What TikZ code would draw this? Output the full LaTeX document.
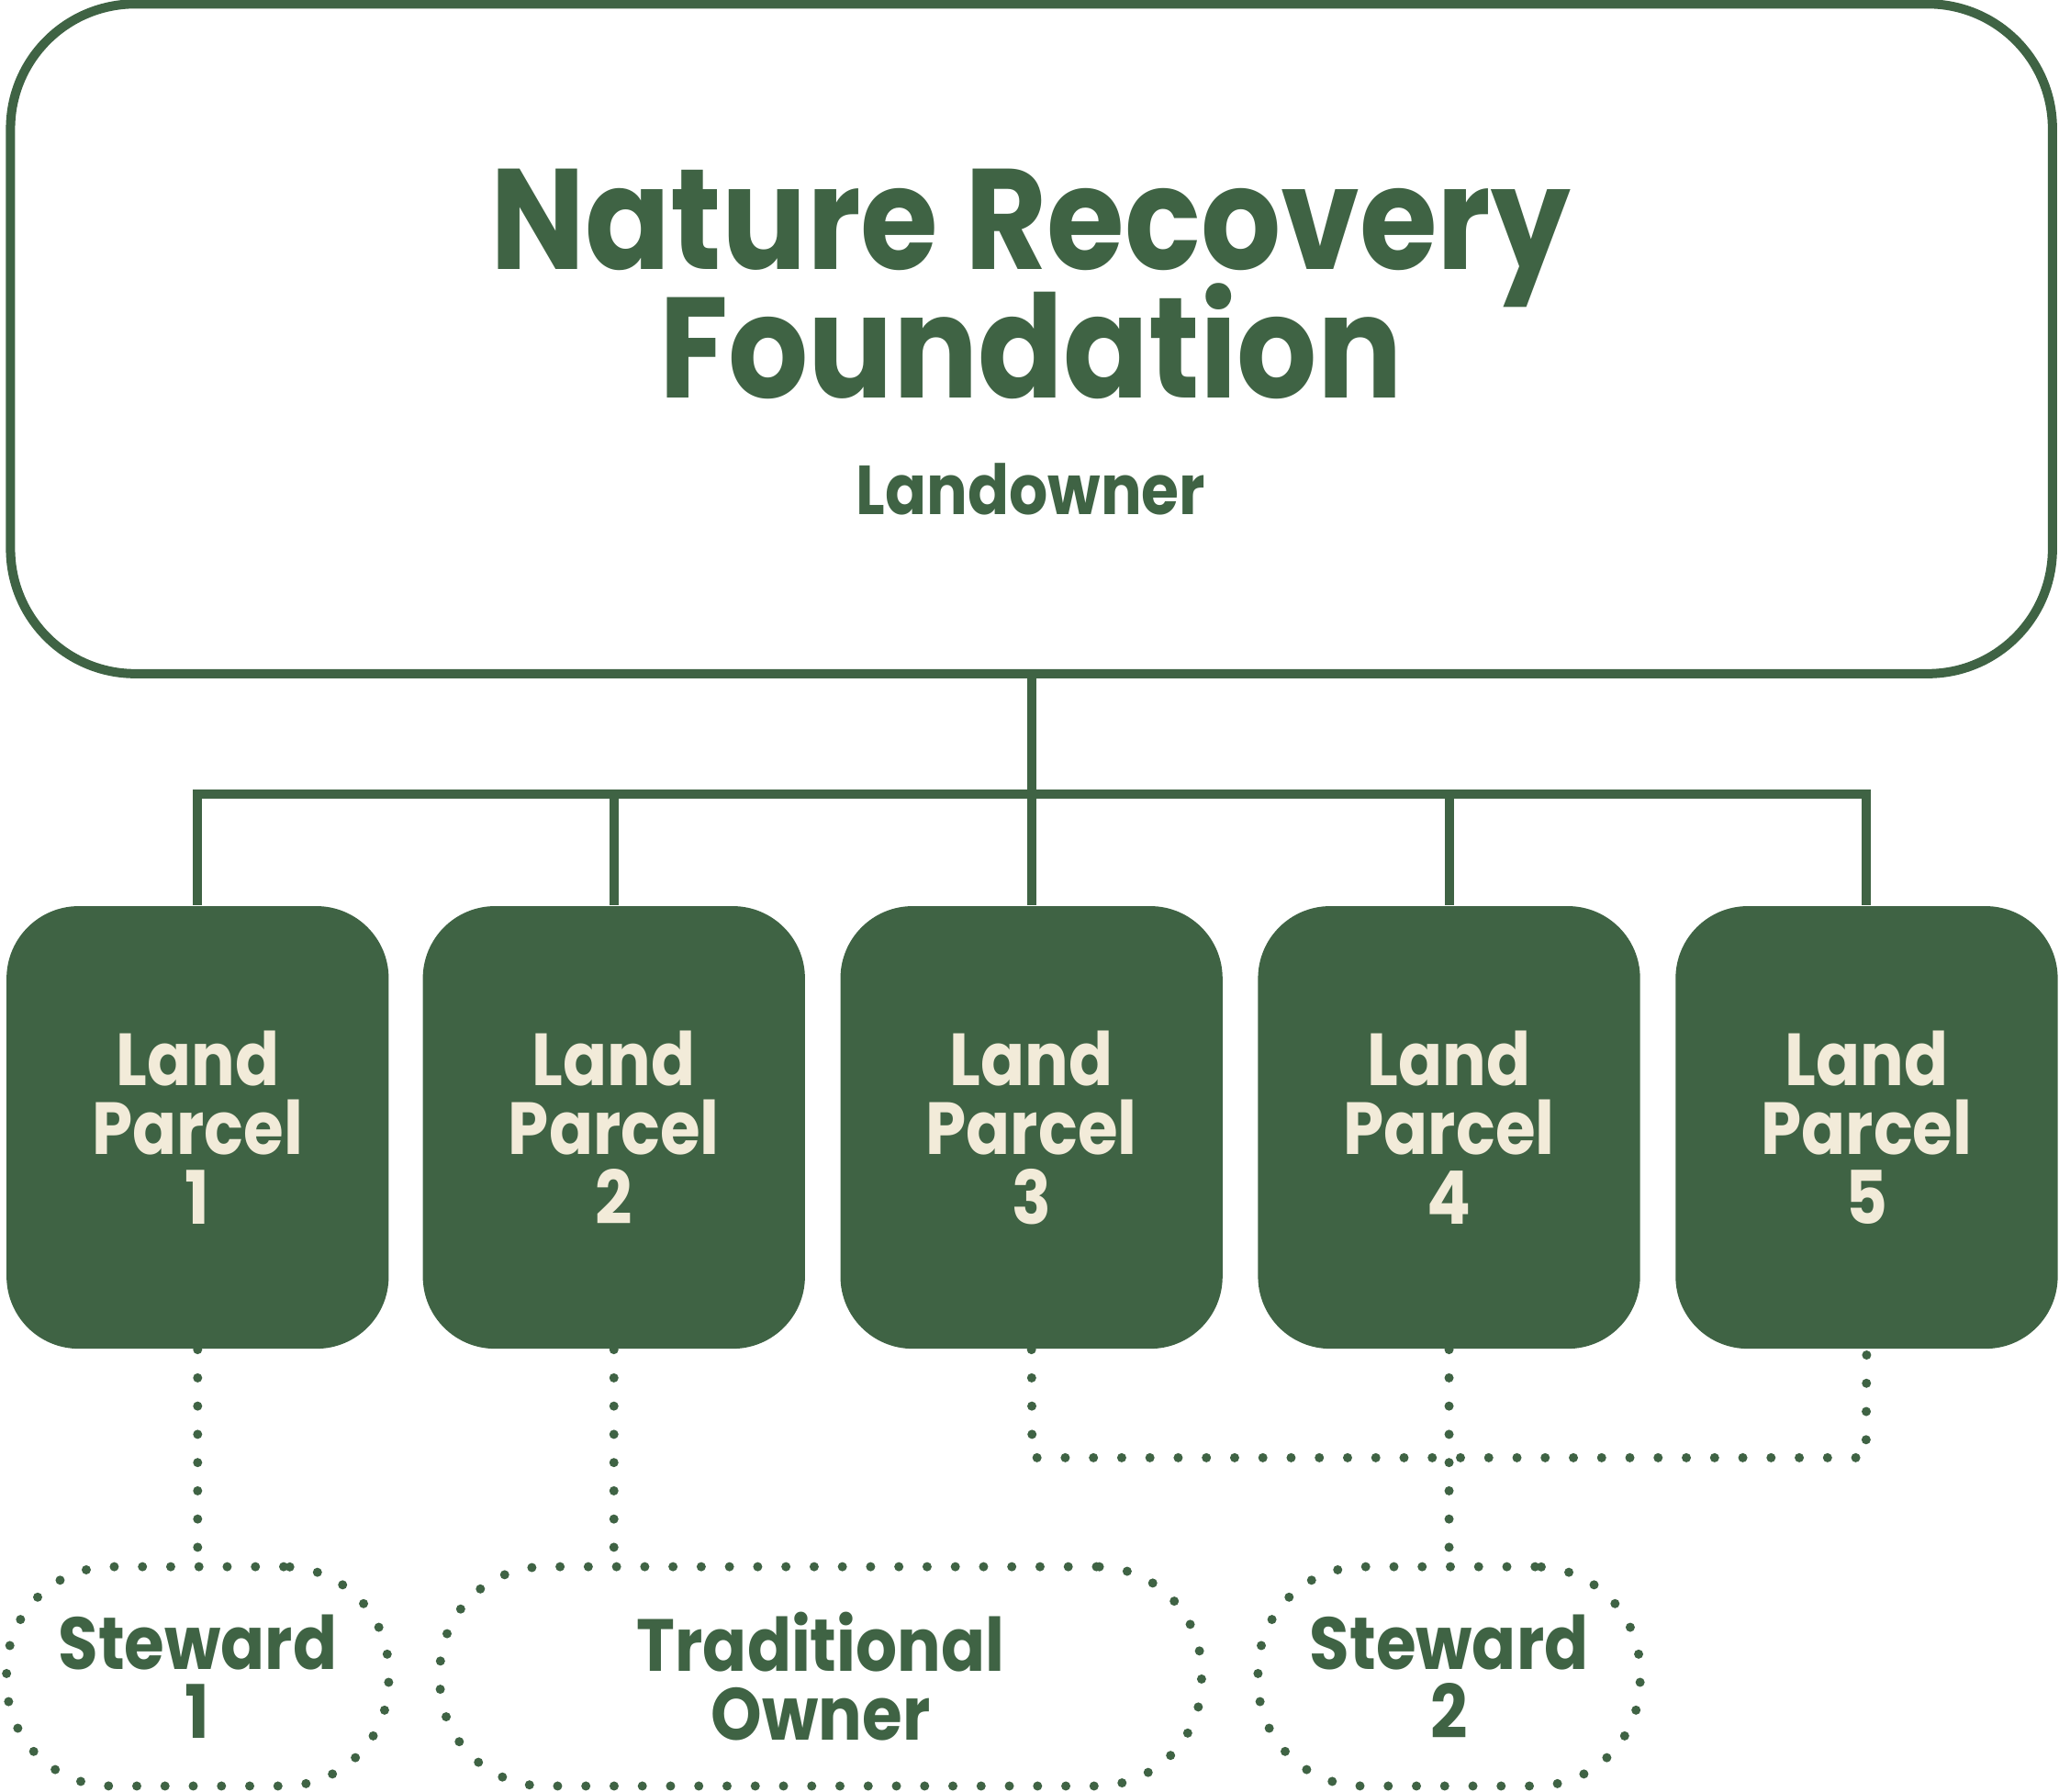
\documentclass[tikz,border=0pt]{standalone}
\usepackage{fontspec}
\setmainfont{Poppins}[FakeStretch=0.88]
\usetikzlibrary{positioning}
\definecolor{fgreen}{HTML}{3F6344}
\definecolor{cream}{HTML}{F2EBD9}
\begin{document}
\begin{tikzpicture}
  \tikzset{owner/.style = {shape=rectangle,draw=fgreen,line width=0.07cm,rounded corners=0.95cm,minimum width=15.55cm,minimum height=5.1cm}}
  \tikzset{parcel/.style = {shape=rectangle,fill=fgreen,rounded corners=0.55cm,minimum width=2.91cm,minimum height=3.37cm,text=cream,align=center,font=\fontsize{16}{15}\selectfont\bfseries}}
  \tikzset{keeper/.style = {shape=rectangle,draw=fgreen,line width=0.07cm,dash pattern=on 0pt off 0.215cm,line cap=round,rounded corners=0.8cm,minimum height=1.67cm,text=fgreen,align=center,font=\fontsize{16}{15}\selectfont\bfseries}}
  \tikzset{solidlink/.style = {draw=fgreen,line width=0.07cm}}
  \tikzset{dotlink/.style = {draw=fgreen,line width=0.07cm,dash pattern=on 0pt off 0.215cm,line cap=round}}

  \useasboundingbox (0,0) rectangle (15.68,13.64);

	\node[owner] (NRF) at (7.855,11.06) {};
	\node[anchor=base,text=fgreen,font=\fontsize{31}{28}\selectfont\bfseries] (T1) at (7.85,11.59) {Nature Recovery};
	\node[anchor=base,text=fgreen,font=\fontsize{31}{28}\selectfont\bfseries] (T2) at (7.85,10.61) {Foundation};
	\node[anchor=base,text=fgreen,font=\fontsize{15}{15}\selectfont\bfseries] (LO) at (7.85,9.72) {Landowner};

	\node[parcel] (P1) at (1.505,5.055) {Land\\Parcel\\1};
	\node[parcel] (P2) at (4.675,5.055) {Land\\Parcel\\2};
	\node[parcel] (P3) at (7.855,5.055) {Land\\Parcel\\3};
	\node[parcel] (P4) at (11.035,5.055) {Land\\Parcel\\4};
	\node[parcel] (P5) at (14.215,5.055) {Land\\Parcel\\5};

	\node[keeper,minimum width=2.91cm] (S1) at (1.505,0.875) {Steward\\1};
	\node[keeper,minimum width=5.8cm] (TO) at (6.25,0.875) {Traditional\\Owner};
	\node[keeper,minimum width=2.91cm] (S2) at (11.035,0.875) {Steward\\2};

	\coordinate (J) at (7.855,7.59);
	\coordinate (D1) at (7.86,2.54);
	\coordinate (D2) at (14.21,2.54);

    \path[solidlink] (NRF.south) -- (J);
    \foreach \to in {P1,P2,P3,P4,P5}
    \path[solidlink] (J) -| (\to.north);

    \foreach \from/\to in {P1/S1,P4/S2}
    \path[dotlink] (\from.south) -- (\to.north);
    \path[dotlink] (P2.south) -- (P2.south |- TO.north);
    \path[dotlink] (P3.south) -- (D1) -- (D2) -- (P5.south);

\end{tikzpicture}
\end{document}
